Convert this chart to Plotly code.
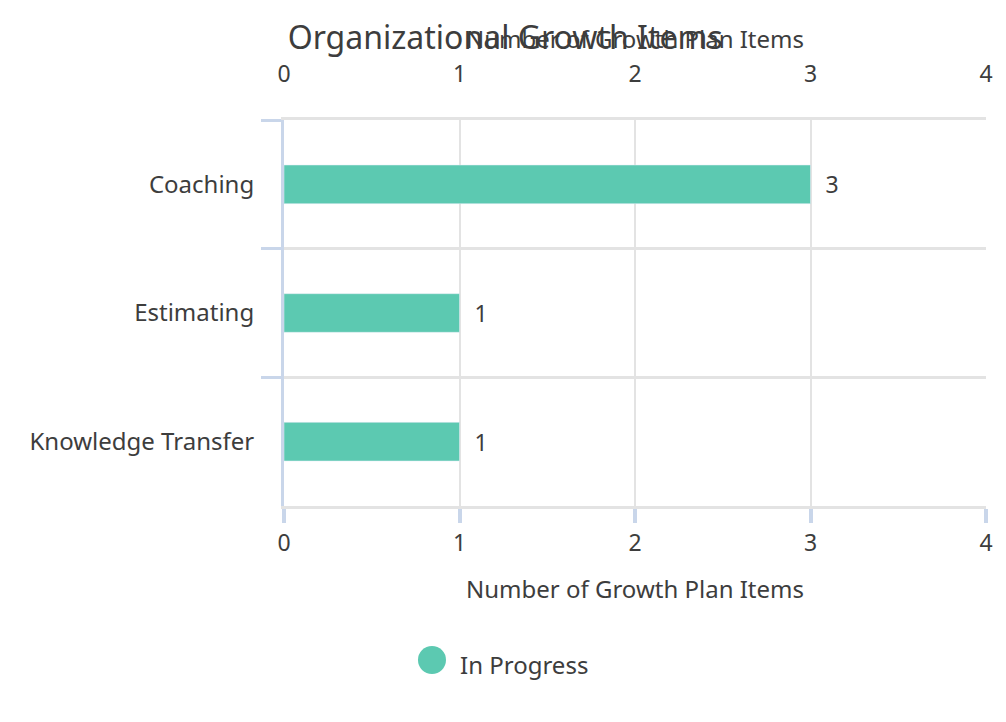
import plotly.graph_objects as go

categories = ["Coaching", "Estimating", "Knowledge Transfer"]
in_progress = [3, 1, 1]
x_ticks = [0, 1, 2, 3, 4]
series_name = "In Progress"
chart_title = "Organizational Growth Items"
x_title = "Number of Growth Plan Items"

FONT = "Noto Sans"
TXT = "#3d3d3d"
BAR = "#5cc9b1"
TICKC = "#c9d6ea"
GRID = "#e3e3e3"
FS = 24

fig = go.Figure()
fig.add_trace(go.Bar(
    y=categories, x=in_progress, orientation="h", name=series_name,
    marker=dict(color=BAR), width=0.3, showlegend=False,
    text=["\u00a0\u00a0" + str(v) for v in in_progress], textposition="outside",
    textfont=dict(size=23, color=TXT, family=FONT), cliponaxis=False,
))
fig.add_trace(go.Scatter(
    y=categories, x=in_progress, xaxis="x2", mode="markers",
    marker=dict(opacity=0), showlegend=False, hoverinfo="skip",
))

axis_common = dict(
    range=[0, 4], tickvals=x_ticks, ticktext=[str(t) for t in x_ticks],
    tickfont=dict(size=23, color=TXT, family=FONT),
    zeroline=False,
)
fig.update_layout(
    width=1006, height=722,
    margin=dict(l=284, r=20, t=120, b=216),
    paper_bgcolor="white", plot_bgcolor="white",
    font=dict(family=FONT, color=TXT),
    title=dict(text=chart_title, x=0.286, xanchor="left",
               y=0.947, yanchor="middle",
               font=dict(size=32, color=TXT, family=FONT)),
    xaxis=dict(**axis_common, side="bottom", showgrid=True, gridcolor=GRID, gridwidth=2,
               showline=True, linecolor=GRID, linewidth=3,
               ticks="outside", ticklen=14, tickwidth=4, tickcolor=TICKC,
               ticklabelstandoff=0,
               title=dict(text=x_title, standoff=25,
                          font=dict(size=FS, color=TXT, family=FONT))),
    xaxis2=dict(**axis_common, side="top", overlaying="x", showgrid=False,
                showline=True, linecolor=GRID, linewidth=3,
                ticks="outside", ticklen=26, tickcolor="rgba(0,0,0,0)",
                title=dict(text=x_title, standoff=2,
                           font=dict(size=FS, color=TXT, family=FONT))),
    yaxis=dict(type="category", autorange="reversed", tickson="boundaries",
               showgrid=True, gridcolor=GRID, gridwidth=3,
               ticks="outside", ticklen=20, tickwidth=3, tickcolor=TICKC,
               showline=True, linecolor=TICKC, linewidth=3,
               ticklabelstandoff=22,
               tickfont=dict(size=FS, color=TXT, family=FONT)),
    showlegend=False,
    barmode="overlay",
)

# legend entry (large circular swatch + label) below the chart
fig.add_shape(type="circle", xref="paper", yref="paper",
              xsizemode="pixel", ysizemode="pixel",
              xanchor=0.2108, yanchor=-0.399, x0=-14, x1=14, y0=-14, y1=14,
              fillcolor=BAR, line=dict(width=0))
fig.add_annotation(text=series_name, xref="paper", yref="paper",
                   x=0.2479, y=-0.41, xanchor="left", yanchor="middle",
                   showarrow=False, font=dict(size=FS, color=TXT, family=FONT))

fig.write_html("out.html")
